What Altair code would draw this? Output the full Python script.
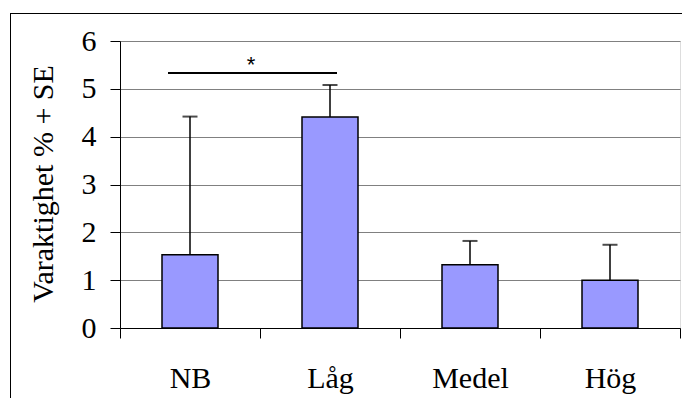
import altair as alt
import pandas as pd

categories = ["NB", "Låg", "Medel", "Hög"]
means = [1.53, 4.41, 1.32, 1.00]
se = [2.89, 0.67, 0.50, 0.74]

sig_start = ["NB"]
sig_end = ["Låg"]
sig_level = [5.33]
sig_label = ["*"]

y_title = ["Varaktighet % + SE"]

df = pd.DataFrame({"cat": categories, "mean": means, "se": se})
df["upper"] = df["mean"] + df["se"]
sig = pd.DataFrame({"start": sig_start, "end": sig_end, "y": sig_level, "label": sig_label})
ttl = pd.DataFrame({"t": y_title})

FONT = "Liberation Serif"

xscale = alt.Scale(domain=categories, paddingInner=0, paddingOuter=0)
yscale = alt.Scale(domain=[0, 6], nice=False, zero=True)

xenc = alt.X("cat:N", scale=xscale, title=None,
             axis=alt.Axis(labelAngle=0, tickSize=10, labelPadding=25,
                           tickBand="extent", grid=False))
yenc = alt.Y("mean:Q", scale=yscale, title=None,
             axis=alt.Axis(values=[0, 1, 2, 3, 4, 5, 6], tickSize=10, labelPadding=14,
                           grid=True))

base = alt.Chart(df)

frame = alt.Chart(df).mark_rect(fillOpacity=0, stroke="black", strokeWidth=1).encode(
    x=alt.value(-109.5), x2=alt.value(580), y=alt.value(-27.5), y2=alt.value(400))

bars = base.mark_bar(color="#9999FF", stroke="black", strokeWidth=1.5, size=56).encode(
    x=xenc, y=yenc)
err = base.mark_rule(color="black", strokeWidth=1.5).encode(
    x=alt.X("cat:N", scale=xscale), y=alt.Y("mean:Q", scale=yscale), y2="upper:Q")
caps = base.mark_tick(color="black", size=15, thickness=2).encode(
    x=alt.X("cat:N", scale=xscale), y=alt.Y("upper:Q", scale=yscale))

sig_line = alt.Chart(sig).mark_rule(color="black", strokeWidth=2, xOffset=-22, x2Offset=7).encode(
    x=alt.X("start:N", scale=xscale), x2="end:N", y=alt.Y("y:Q", scale=yscale))
star = alt.Chart(sig).mark_text(font="Liberation Sans", fontSize=22, dx=61, dy=-1,
                                baseline="alphabetic", color="black").encode(
    x=alt.X("start:N", scale=xscale), y=alt.Y("y:Q", scale=yscale), text="label:N")

title_txt = alt.Chart(ttl).mark_text(font=FONT, fontSize=30, angle=270, align="center",
                                     baseline="alphabetic", color="black").encode(
    x=alt.value(-67), y=alt.value(143), text="t:N")

chart = alt.layer(bars, frame, err, caps, sig_line, star, title_txt).properties(
    width=560, height=287,
    padding={"left": 120, "top": 41, "right": 2, "bottom": 70},
    autosize="none",
).configure_view(stroke="#808080", strokeWidth=1).configure(background="white").configure_axis(
    labelFont=FONT, labelFontSize=30, labelColor="black",
    domainColor="black", tickColor="black", gridColor="#808080", gridWidth=1,
)

chart.save("out.html", embed_options={"renderer": "svg", "actions": False})
